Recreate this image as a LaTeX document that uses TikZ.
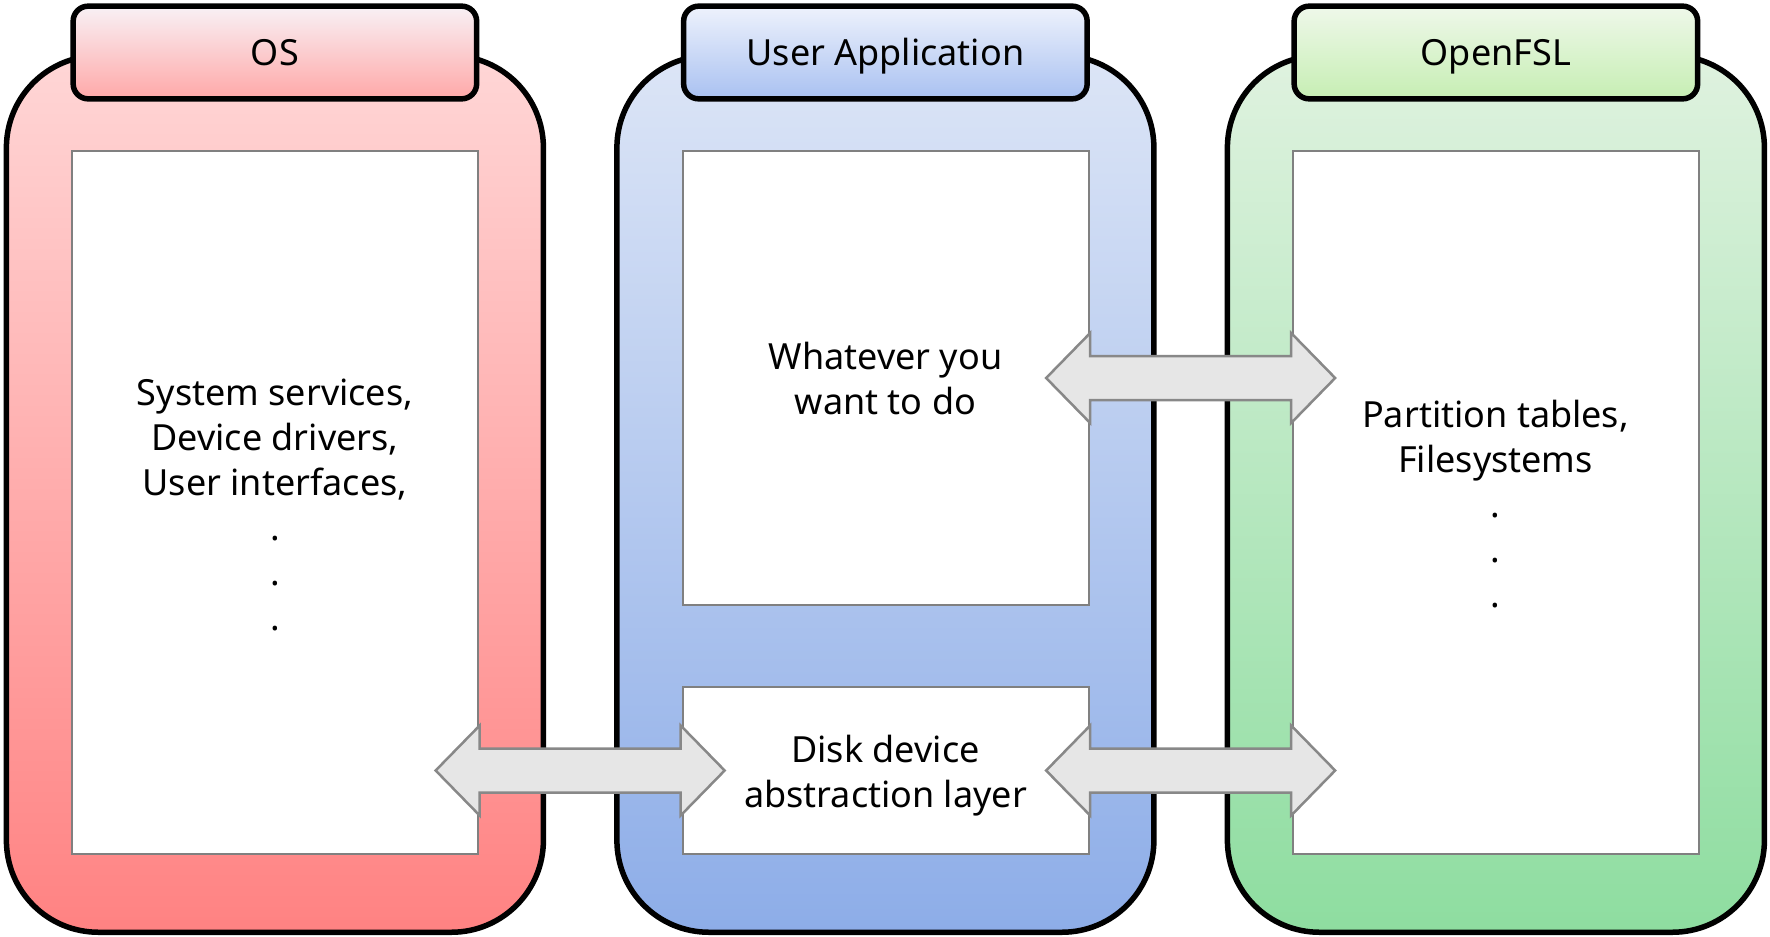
\documentclass[tikz,border=0pt]{standalone}
\usepackage{fontspec}
\setmainfont{Noto Sans}
\usepackage{tikz}
\usetikzlibrary{calc,positioning}
\definecolor{ostop}{HTML}{FFD6D6}
\definecolor{osbot}{HTML}{FF8282}
\definecolor{ostabtop}{HTML}{F8F1F5}
\definecolor{ostabbot}{HTML}{FFA8A8}
\definecolor{uatop}{HTML}{DCE5F6}
\definecolor{uabot}{HTML}{8DADE8}
\definecolor{uatabtop}{HTML}{EEF2FC}
\definecolor{uatabbot}{HTML}{A9C1F1}
\definecolor{fsltop}{HTML}{DFF2DF}
\definecolor{fslbot}{HTML}{8EDDA0}
\definecolor{fsltabtop}{HTML}{EFF8EA}
\definecolor{fsltabbot}{HTML}{C6EEB3}
\definecolor{boxgray}{HTML}{808080}
\definecolor{arrowgray}{HTML}{888888}
\definecolor{arrowfill}{HTML}{E6E6E6}
\tikzstyle{panel} = [draw, line width=5.5pt, rounded corners=92pt, minimum width=537pt, minimum height=876.5pt]
\tikzstyle{tab} = [draw, line width=5.5pt, rounded corners=15pt, minimum width=403.5pt, minimum height=92.7pt, text height=25.7pt, text depth=0pt]
\tikzstyle{content} = [draw=boxgray, fill=white, line width=2pt, align=center, minimum width=406pt]
\tikzstyle{wide} = [node distance=610.5pt]
\tikzstyle{tabdist} = [node distance=441.5pt]
\tikzstyle{biarrow} = [draw=arrowgray, fill=arrowfill, line width=2.5pt, line join=miter]

\begin{document}
\begin{tikzpicture}[ x=1pt, y=-1pt, font=\fontsize{36}{45}\selectfont ]
\useasboundingbox (0,0) rectangle (1770,937);

% panels
\node (os)  [panel, top color=ostop, bottom color=osbot] at (274.9,494) {};
\node (ua)  [panel, wide, right of=os, top color=uatop, bottom color=uabot] {};
\node (fsl) [panel, wide, right of=ua, top color=fsltop, bottom color=fslbot] {};

% tabs
\node (tab_os)  [tab, tabdist, above of=os,  top color=ostabtop,  bottom color=ostabbot]  {OS};
\node (tab_ua)  [tab, tabdist, above of=ua,  top color=uatabtop,  bottom color=uatabbot]  {User Application};
\node (tab_fsl) [tab, tabdist, above of=fsl, top color=fsltabtop, bottom color=fsltabbot] {OpenFSL};

% boxes
\node (box_os)   [content, minimum height=703pt] at (275,502.5)    {\rule{0pt}{31pt}System services,\\Device drivers,\\User interfaces,\\.\\.\\.};
\node (box_want) [content, minimum height=454pt] at (885.5,378)    {Whatever you\\want to do};
\node (box_disk) [content, minimum height=167pt] at (885.5,770.5)  {\rule{0pt}{38pt}Disk device\\abstraction layer};
\node (box_fsl)  [content, minimum height=703pt] at (1495.5,502.5) {\rule{0pt}{31pt}Partition tables,\\Filesystems\\.\\.\\.};

% arrows
\coordinate (m_left)  at ($(os)!.5!(ua)$);
\coordinate (m_right) at ($(ua)!.5!(fsl)$);
\coordinate (a_top)   at (m_right |- box_want);
\coordinate (a_left)  at (m_left |- box_disk);
\coordinate (a_right) at (m_right |- box_disk);
\foreach \c in {a_top,a_left,a_right}
  \draw [biarrow] ($(\c)+(-144.5,0)$) -- ++(44,-45) -- ++(0,23) -- ++(201,0) -- ++(0,-23)
    -- ++(44,45) -- ++(-44,45) -- ++(0,-23) -- ++(-201,0) -- ++(0,23) -- cycle;

\end{tikzpicture}
\end{document}
